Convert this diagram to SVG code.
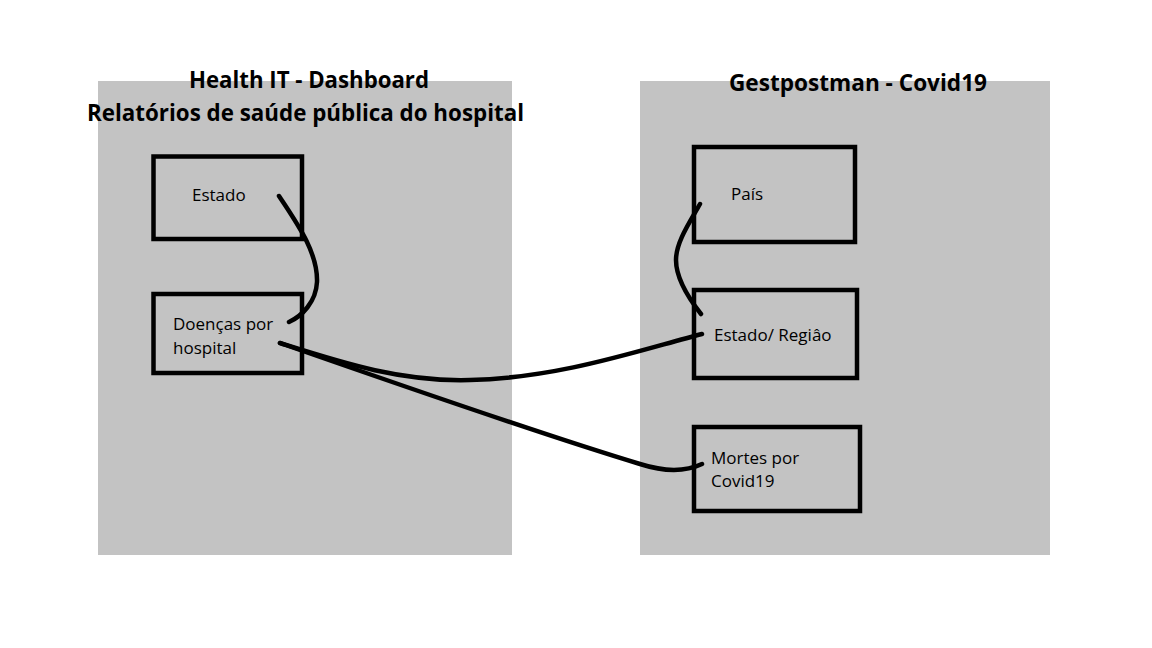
<svg xmlns="http://www.w3.org/2000/svg" width="1152" height="648" viewBox="0 0 1152 648">
<style>
.panel{fill:#c3c3c3}
.box{fill:none;stroke:#000;stroke-width:4.5}
.title{font-family:"Open Sans","Noto Sans",sans-serif;font-weight:bold;font-size:23px;fill:#000}
.lbl{font-family:"Open Sans","Noto Sans",sans-serif;font-size:17px;fill:#000}
.con{fill:none;stroke:#000;stroke-width:4.5;stroke-linecap:round}
</style>
<rect width="1152" height="648" fill="#fff"/>
<g id="panel-left">
<rect class="panel" x="98" y="81" width="414" height="474"/>
<text class="title" x="309" y="88" text-anchor="middle" textLength="240" lengthAdjust="spacingAndGlyphs">Health IT - Dashboard</text>
<text class="title" x="305.5" y="121" text-anchor="middle" textLength="437" lengthAdjust="spacingAndGlyphs">Relatórios de saúde pública do hospital</text>
</g>
<g id="panel-right">
<rect class="panel" x="640" y="81" width="410" height="474"/>
<text class="title" x="858" y="91" text-anchor="middle" textLength="258" lengthAdjust="spacingAndGlyphs">Gestpostman - Covid19</text>
</g>
<g id="node-estado">
<rect class="box" x="153.5" y="156.5" width="148.5" height="82.5"/>
<text class="lbl" x="192" y="201">Estado</text>
</g>
<g id="node-doencas">
<rect class="box" x="153.5" y="294" width="148.5" height="79"/>
<text class="lbl" x="173" y="330">Doenças por</text>
<text class="lbl" x="173" y="354">hospital</text>
</g>
<g id="node-pais">
<rect class="box" x="694" y="147" width="161" height="95"/>
<text class="lbl" x="731" y="200">País</text>
</g>
<g id="node-estado-regiao">
<rect class="box" x="694" y="290" width="163" height="88"/>
<text class="lbl" x="714" y="341">Estado/ Regiâo</text>
</g>
<g id="node-mortes">
<rect class="box" x="694" y="427" width="166" height="84"/>
<text class="lbl" x="711" y="464">Mortes por</text>
<text class="lbl" x="711" y="487">Covid19</text>
</g>
<g id="connectors">
<path class="con" d="M279,196 C296,222 318,252 317,282 C316,302 302,316 289,322"/>
<path class="con" d="M700,204 C690,222 676,242 676,260 C676,280 690,300 701,314"/>
<path class="con" d="M280,343 C340,362 400,382 470,380 C560,378 640,350 702,334"/>
<path class="con" d="M280,343 C400,385 560,440 640,464 C665,472 685,472 702,464"/>
</g>
</svg>
